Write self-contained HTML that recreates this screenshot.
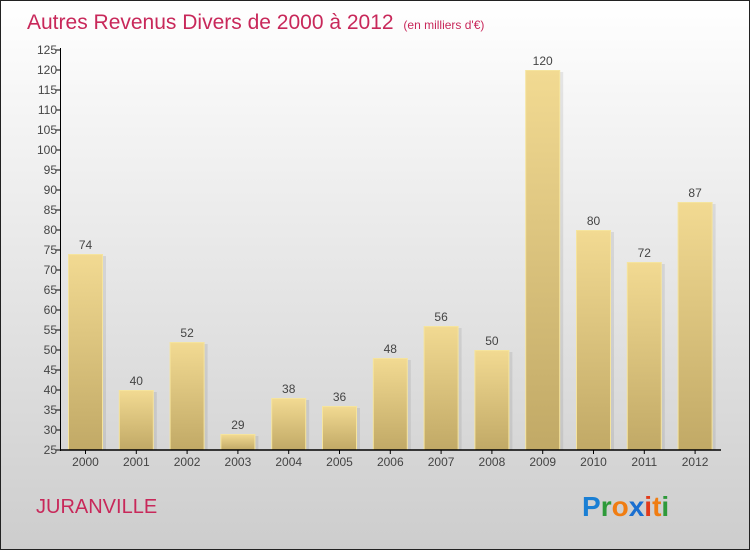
<!DOCTYPE html>
<html><head><meta charset="utf-8"><style>
body{margin:0;width:750px;height:550px;overflow:hidden;font-family:"Liberation Sans",sans-serif}
</style></head><body>
<svg width="750" height="550" xmlns="http://www.w3.org/2000/svg">
<defs>
<linearGradient id="bg" x1="0" y1="0" x2="0" y2="1"><stop offset="0" stop-color="#ffffff"/><stop offset="1" stop-color="#cdcdcd"/></linearGradient>
<linearGradient id="bar" x1="0" y1="0" x2="0" y2="1"><stop offset="0" stop-color="#f2da92"/><stop offset="1" stop-color="#c1a966"/></linearGradient>
</defs>
<rect x="0.5" y="0.5" width="749" height="549" fill="url(#bg)" stroke="#222"/>
<text x="27" y="29" font-size="21" fill="#c8285a">Autres Revenus Divers de 2000 à 2012 <tspan font-size="12" dx="4">(en milliers d'€)</tspan></text>
<g id="yaxis"></g>
<g id="bars"></g>
<line x1="60" y1="450" x2="721" y2="450" stroke="#000" stroke-width="1.5"/>
<line x1="60.5" y1="48" x2="60.5" y2="451" stroke="#000"/>
<text x="36" y="513" font-size="20" fill="#c8285a">JURANVILLE</text>
<g font-size="28" font-weight="bold" font-family="'Liberation Sans',sans-serif">
<text x="582" y="516"><tspan fill="#1a7fd4">P</tspan><tspan fill="#2e9a3a">r</tspan><tspan fill="#f07d12">o</tspan><tspan fill="#1a6fd0">x</tspan><tspan fill="#e23a1a">i</tspan><tspan fill="#f07d12">t</tspan><tspan fill="#2e9a3a">i</tspan></text>
</g>
</svg>
<script>
const years=["2000","2001","2002","2003","2004","2005","2006","2007","2008","2009","2010","2011","2012"];
const values=[74,40,52,29,38,36,48,56,50,120,80,72,87];
const yTicks=[25,30,35,40,45,50,55,60,65,70,75,80,85,90,95,100,105,110,115,120,125];
const NS="http://www.w3.org/2000/svg";
const y=v=>450-(v-25)*4;
const x=i=>68+i*50.8;
function mk(t,a,p){const e=document.createElementNS(NS,t);for(const k in a)e.setAttribute(k,a[k]);p.appendChild(e);return e;}
const ya=document.getElementById('yaxis');
yTicks.forEach(t=>{
 const l=mk('line',{x1:56,x2:61,y1:y(t),y2:y(t),stroke:'#000'},ya);
 
 
 const tx=mk('text',{x:57,y:y(t)+4,'text-anchor':'end','font-size':12,fill:'#444'},ya);
 tx.textContent=t;
 
 
});
const bg=document.getElementById('bars');
values.forEach((v,i)=>{
 const sh=mk('rect',{x:x(i)+3,y:y(v)+2,width:35,height:450-y(v)-2,fill:'#000','fill-opacity':0.08},bg);
 
 
 const r=mk('rect',{x:x(i)+0.5,y:y(v)+0.5,width:34,height:450-y(v)-0.5,fill:'url(#bar)',stroke:'#f5e49e','stroke-width':1},bg);
 
 
 const vl=mk('text',{x:x(i)+17.5,y:y(v)-5,'text-anchor':'middle','font-size':12,fill:'#444'},bg);
 vl.textContent=v;
 
 
 const tk=mk('line',{x1:x(i)+17.5,x2:x(i)+17.5,y1:450,y2:454,stroke:'#000'},bg);
 
 
 const xl=mk('text',{x:x(i)+17.5,y:466,'text-anchor':'middle','font-size':12,fill:'#444'},bg);
 xl.textContent=years[i];
 
 
});
</script>
</body></html>
